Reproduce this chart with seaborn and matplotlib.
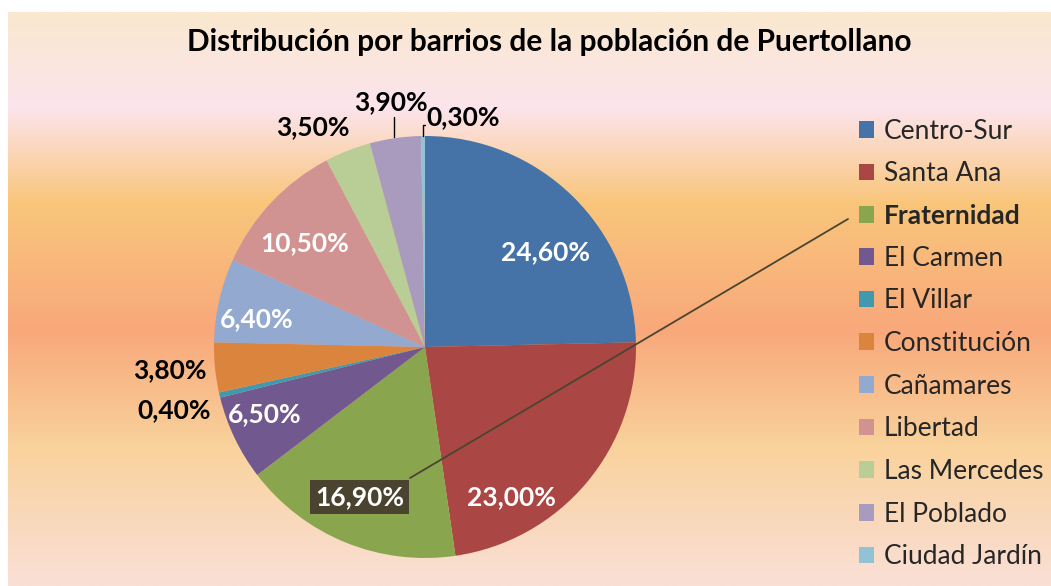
import numpy as np
import matplotlib
matplotlib.use("Agg")
import matplotlib.pyplot as plt
import seaborn as sns
from matplotlib.colors import LinearSegmentedColormap

# Data
barrios = ["Centro-Sur", "Santa Ana", "Fraternidad", "El Carmen", "El Villar",
           "Constitución", "Cañamares", "Libertad", "Las Mercedes", "El Poblado",
           "Ciudad Jardín"]
porcentajes = [24.6, 23.0, 16.9, 6.5, 0.4, 3.8, 6.4, 10.5, 3.5, 3.9, 0.3]
colores = ["#4572A7", "#AA4643", "#89A54E", "#71588F", "#4198AF", "#DB843D",
           "#93A9CF", "#D19392", "#B9CD96", "#A99BBD", "#91C3D5"]
etiquetas = ["24,60%", "23,00%", "16,90%", "6,50%", "0,40%", "3,80%",
             "6,40%", "10,50%", "3,50%", "3,90%", "0,30%"]
titulo = "Distribución por barrios de la población de Puertollano"

# label placement (axes data units, radius = 1)
pos_etiquetas = [(0.57, 0.45), (0.41, -0.71), (-0.31, -0.71), (-0.76, -0.32),
                 (-1.19, -0.30), (-1.21, -0.11), (-0.80, 0.13), (-0.57, 0.49),
                 (-0.53, 1.04), (-0.16, 1.16), (0.18, 1.09)]
dentro = [True, True, True, True, False, False, True, True, False, False, False]

sns.set_theme(style="white")
plt.rcParams['font.family'] = ['Lato', 'DejaVu Sans']

W, H = 1051, 586
fig = plt.figure(figsize=(W / 100, H / 100), dpi=100)
fig.patch.set_facecolor("white")

# gradient background
bg = fig.add_axes([8 / W, 0, (W - 8) / W, (H - 12) / H])
bg.set_axis_off()
stops = [(0.0, "#FAE8CF"), (0.165, "#FCE4EC"), (0.33, "#F9C67C"),
         (0.555, "#F8A87A"), (0.76, "#F9D29C"), (1.0, "#FADFD6")]
cmap = LinearSegmentedColormap.from_list("fondo", stops)
grad = np.linspace(0, 1, 400).reshape(-1, 1)
bg.imshow(grad, aspect="auto", cmap=cmap, extent=[0, 1, 0, 1], origin="upper")

fig.text(549 / W, 1 - 42 / H, titulo, ha="center", va="center",
         fontsize=21.5, fontweight="bold", color="black")

# pie
cx, cy, r = 425, 347, 211
ax = fig.add_axes([(cx - r) / W, (H - cy - r) / H, 2 * r / W, 2 * r / H])
ax.set_axis_off()
wedges, _ = ax.pie(porcentajes, colors=sns.color_palette(colores),
                   startangle=90, counterclock=False, radius=1,
                   wedgeprops=dict(linewidth=0))
ax.set_xlim(-1, 1)
ax.set_ylim(-1, 1)

for i, (txt, (x, y)) in enumerate(zip(etiquetas, pos_etiquetas)):
    color = "white" if dentro[i] else "black"
    bbox = None
    if i == 2:
        bbox = dict(boxstyle="square,pad=0.2", fc="#4A4330", ec="none")
    ax.text(x, y, txt, ha="center", va="center", fontsize=19,
            fontweight="bold", color=color, bbox=bbox, clip_on=False)

# leader lines for small top slices
ax.plot([-0.145, -0.145], [1.09, 0.995], color="black", lw=1, clip_on=False)
ax.plot([-0.01, -0.01, 0.0], [1.0, 1.05, 1.05], color="black", lw=1,
        clip_on=False)

# legend
handles = [plt.Rectangle((0, 0), 1, 1, fc=c, ec="none") for c in colores]
leg = fig.legend(handles, barrios, loc="upper left",
                 bbox_to_anchor=(848 / W, 1 - 108 / H), frameon=False,
                 fontsize=19, handlelength=0.6, handleheight=0.6,
                 handletextpad=0.35, labelspacing=0.67, borderaxespad=0)
leg.get_texts()[2].set_fontweight("bold")

# line from Fraternidad label to legend
lx0, ly0 = 410, 478
lx1, ly1 = 848, 219
fig.add_artist(plt.Line2D([lx0 / W, lx1 / W], [1 - ly0 / H, 1 - ly1 / H],
                          color="#4A4530", lw=1.3))

fig.savefig("out.png", dpi=100)
